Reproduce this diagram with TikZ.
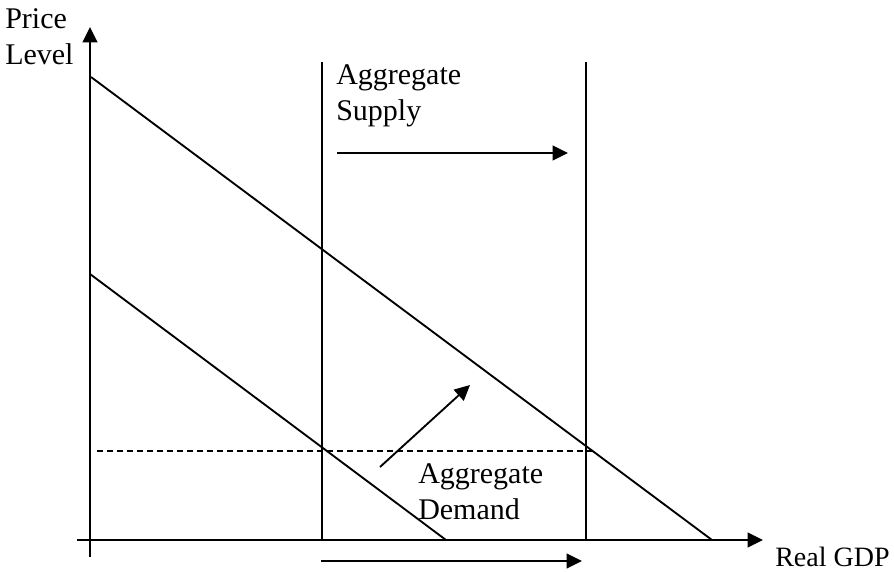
\documentclass[tikz,border=0pt]{standalone}
\usepackage{fontspec}
\setmainfont{Liberation Serif}
\usetikzlibrary{arrows.meta}
\tikzset{
  ln/.style={line width=1.4pt},
  arr/.style={ln,-{Triangle[length=11.5pt,width=11pt]}},
  dsh/.style={line width=1.1pt,dash pattern=on 4.5pt off 3pt},
  lbl/.style={inner sep=0pt,anchor=north west,align=left,font=\fontsize{22.5}{27.5}\selectfont}
}
\begin{document}
\begin{tikzpicture}[x=0.75pt,y=-0.75pt]
\useasboundingbox (0,0) rectangle (894,572);
% axes
\coordinate (ybot) at (90,557);
\coordinate (ytop) at (90,27);
\coordinate (xl) at (77,540);
\coordinate (xr) at (763,540);
\draw[arr] (ybot) -- (ytop);
\draw[arr] (xl) -- (xr);
% supply lines
\coordinate (s1t) at (322,62); \coordinate (s1b) at (322,540);
\coordinate (s2t) at (586,62); \coordinate (s2b) at (586,540);
\draw[ln] (s1t) -- (s1b);
\draw[ln] (s2t) -- (s2b);
% demand lines
\coordinate (d1t) at (91,77); \coordinate (d1b) at (712,540);
\coordinate (d2t) at (90,274); \coordinate (d2b) at (446,540);
\draw[ln] (d1t) -- (d1b);
\draw[ln] (d2t) -- (d2b);
% dashed price level
\coordinate (pl) at (97,451); \coordinate (pr) at (595,451);
\draw[dsh] (pl) -- (pr);
% shift arrows
\coordinate (a1s) at (337,153); \coordinate (a1e) at (568,153);
\coordinate (a2s) at (321,561); \coordinate (a2e) at (582,561);
\coordinate (a3s) at (380,467); \coordinate (a3e) at (470,385);
\draw[arr] (a1s) -- (a1e);
\draw[arr] (a2s) -- (a2e);
\draw[arr] (a3s) -- (a3e);
% labels
\node[lbl] (price) at (5,8) {Price\\Level};
\node[lbl] (as) at (336,64) {Aggregate\\Supply};
\node[lbl] (ad) at (418,463) {Aggregate\\Demand};
\node[lbl,font=\fontsize{21}{27}\selectfont] (gdp) at (775,547) {Real GDP};
\end{tikzpicture}
\end{document}
